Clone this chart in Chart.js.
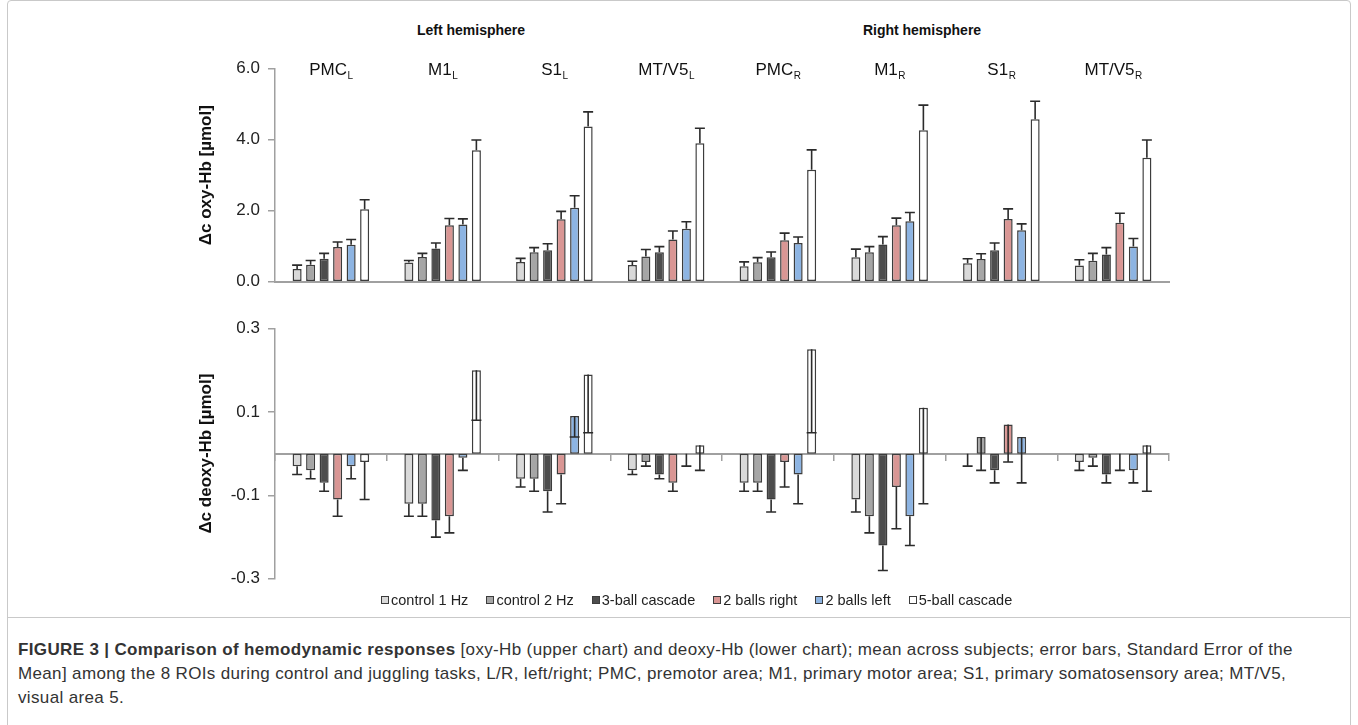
<!DOCTYPE html>
<html>
<head>
<meta charset="utf-8">
<script src="https://cdn.jsdelivr.net/npm/chart.js@4.4.1/dist/chart.umd.min.js"></script>
<style>
  body { margin: 0; background: #fff; width: 1358px; height: 725px; overflow: hidden; position: relative;
         font-family: "Liberation Sans", Arial, Helvetica, sans-serif; }
  canvas { position: absolute; left: 0; }
  #oxyChart { top: 0; }
  #deoxyChart { top: 300px; }
  .frame { position: absolute; left: 7px; top: 0; width: 1342px; height: 760px; border: 1px solid #c9c9c9; border-radius: 4px; }
  .divider { position: absolute; left: 7px; top: 617px; width: 1344px; height: 1px; background: #c9c9c9; }
  .hemi { position: absolute; top: 22px; font-weight: bold; font-size: 14px; color: #111; transform: translateX(-50%); white-space: nowrap; }
  #legend { position: absolute; left: 381px; top: 592px; display: flex; gap: 18px; font-size: 14.5px; color: #222; white-space: nowrap; }
  #legend span.item { display: flex; align-items: center; }
  #legend span.box { width: 6px; height: 6px; border: 1px solid #3c3c3c; margin-right: 2px; }
  .caption { position: absolute; left: 18px; top: 638px; font-size: 17px; letter-spacing: 0.35px; line-height: 24px; color: #333; white-space: nowrap; }
</style>
</head>
<body>
<div class="frame"></div>
<div class="divider"></div>
<div class="hemi" style="left:471px">Left hemisphere</div>
<div class="hemi" style="left:922px">Right hemisphere</div>
<canvas id="oxyChart" width="1358" height="300"></canvas>
<canvas id="deoxyChart" width="1358" height="297"></canvas>
<div id="legend"></div>
<div class="caption"><b>FIGURE 3 | Comparison of hemodynamic responses</b> [oxy-Hb (upper chart) and deoxy-Hb (lower chart); mean across subjects; error bars, Standard Error of the<br>Mean] among the 8 ROIs during control and juggling tasks, L/R, left/right; PMC, premotor area; M1, primary motor area; S1, primary somatosensory area; MT/V5,<br>visual area 5.</div>

<script>
// regions of interest (name + hemisphere subscript)
const roiNames = ['PMC', 'M1', 'S1', 'MT/V5', 'PMC', 'M1', 'S1', 'MT/V5'];
const roiSides = ['L', 'L', 'L', 'L', 'R', 'R', 'R', 'R'];
const conditions = ['control 1 Hz', 'control 2 Hz', '3-ball cascade', '2 balls right', '2 balls left', '5-ball cascade'];

// oxy-Hb means and SEM
const oxyControl1 = [0.36, 0.54, 0.56, 0.47, 0.44, 0.69, 0.52, 0.46];
const oxyControl1Err = [0.11, 0.06, 0.10, 0.11, 0.12, 0.23, 0.13, 0.16];
const oxyControl2 = [0.48, 0.70, 0.83, 0.71, 0.55, 0.83, 0.64, 0.59];
const oxyControl2Err = [0.12, 0.10, 0.13, 0.20, 0.13, 0.16, 0.15, 0.21];
const oxyCascade3 = [0.65, 0.94, 0.89, 0.83, 0.69, 1.05, 0.89, 0.77];
const oxyCascade3Err = [0.15, 0.15, 0.18, 0.16, 0.15, 0.22, 0.20, 0.19];
const oxyRight2 = [0.98, 1.59, 1.76, 1.19, 1.17, 1.59, 1.77, 1.66];
const oxyRight2Err = [0.14, 0.19, 0.22, 0.24, 0.20, 0.20, 0.28, 0.27];
const oxyLeft2 = [1.04, 1.61, 2.08, 1.49, 1.09, 1.70, 1.45, 0.99];
const oxyLeft2Err = [0.15, 0.16, 0.34, 0.20, 0.17, 0.25, 0.18, 0.23];
const oxyCascade5 = [2.04, 3.70, 4.37, 3.90, 3.15, 4.26, 4.57, 3.49];
const oxyCascade5Err = [0.27, 0.29, 0.41, 0.42, 0.56, 0.71, 0.51, 0.50];

// deoxy-Hb means and SEM
const deoxyControl1 = [-0.03, -0.12, -0.06, -0.04, -0.07, -0.11, 0, -0.02];
const deoxyControl1Err = [0.02, 0.03, 0.02, 0.01, 0.02, 0.03, 0.03, 0.02];
const deoxyControl2 = [-0.04, -0.12, -0.06, -0.02, -0.07, -0.15, 0.04, -0.01];
const deoxyControl2Err = [0.02, 0.03, 0.03, 0.01, 0.02, 0.04, 0.08, 0.02];
const deoxyCascade3 = [-0.07, -0.16, -0.09, -0.05, -0.11, -0.22, -0.04, -0.05];
const deoxyCascade3Err = [0.02, 0.04, 0.05, 0.01, 0.03, 0.06, 0.03, 0.02];
const deoxyRight2 = [-0.11, -0.15, -0.05, -0.07, -0.02, -0.08, 0.07, 0];
const deoxyRight2Err = [0.04, 0.04, 0.07, 0.02, 0.06, 0.10, 0.09, 0.04];
const deoxyLeft2 = [-0.03, -0.01, 0.09, 0, -0.05, -0.15, 0.04, -0.04];
const deoxyLeft2Err = [0.03, 0.03, 0.05, 0.03, 0.07, 0.07, 0.11, 0.03];
const deoxyCascade5 = [-0.02, 0.20, 0.19, 0.02, 0.25, 0.11, 0, 0.02];
const deoxyCascade5Err = [0.09, 0.12, 0.14, 0.06, 0.20, 0.23, 0, 0.11];

const oxyTicks = [0, 6, 2];      // min, max, step
const deoxyTicks = [-0.3, 0.3, 0.2];

const fills = ['#d9d9d9', '#a6a6a6', '#4d4d4d', '#d99694', '#8db4e2', '#ffffff'];
const edge = '#3c3c3c';
const axisGray = '#a0a0a0';
const FONT = '"Liberation Sans", Arial, Helvetica, sans-serif';
Chart.defaults.font.family = FONT;
Chart.defaults.color = '#222';

const labels = roiNames.map((n, i) => n + '_' + roiSides[i]);

function makeDatasets(values, errors) {
  return values.map((v, i) => ({
    label: conditions[i],
    data: v,
    errors: errors[i],
    backgroundColor: fills[i],
    borderColor: edge,
    borderWidth: 1.5,
    borderSkipped: false,
    categoryPercentage: 0.725,
    barPercentage: 0.67,
  }));
}

// whiskers: +1 = up from bar end, -1 = down from bar end
const errorBars = {
  id: 'errorBars',
  afterDatasetsDraw(chart, args, opts) {
    const ctx = chart.ctx;
    const y = chart.scales.y;
    ctx.save();
    ctx.strokeStyle = '#2b2b2b';
    ctx.lineWidth = 1.6;
    chart.data.datasets.forEach((ds, i) => {
      chart.getDatasetMeta(i).data.forEach((bar, j) => {
        const e = ds.errors[j];
        if (!e) return;
        const v = ds.data[j];
        const y0 = y.getPixelForValue(v);
        const y1 = y.getPixelForValue(v + opts.direction * e);
        ctx.beginPath();
        ctx.moveTo(bar.x, y0);
        ctx.lineTo(bar.x, y1);
        ctx.moveTo(bar.x - 5, y1);
        ctx.lineTo(bar.x + 5, y1);
        ctx.stroke();
      });
    });
    ctx.restore();
  }
};

// ROI labels with subscript above the upper chart
const roiLabels = {
  id: 'roiLabels',
  afterDraw(chart) {
    const ctx = chart.ctx;
    const x = chart.scales.x;
    ctx.save();
    ctx.fillStyle = '#111';
    ctx.textBaseline = 'alphabetic';
    ctx.textAlign = 'left';
    roiNames.forEach((name, i) => {
      ctx.font = '17px ' + FONT;
      const w1 = ctx.measureText(name).width;
      ctx.font = '10px ' + FONT;
      const w2 = ctx.measureText(roiSides[i]).width;
      const start = x.getPixelForValue(i) - (w1 + w2) / 2;
      ctx.font = '17px ' + FONT;
      ctx.fillText(name, start, 75);
      ctx.font = '10px ' + FONT;
      ctx.fillText(roiSides[i], start + w1 + 0.5, 79);
    });
    ctx.restore();
  }
};

function yAxis(ticks, title) {
  return {
    min: ticks[0], max: ticks[1],
    afterFit: s => { s.width = 85; },
    ticks: { stepSize: ticks[2], padding: 8, color: '#222', font: { size: 17 },
             callback: v => Number(v).toFixed(1) },
    grid: { drawOnChartArea: false, tickLength: 7, color: axisGray, lineWidth: 1.5 },
    border: { color: axisGray, width: 1.5 },
    title: { display: true, text: title, color: '#111', font: { size: 17, weight: 'bold' }, padding: { top: 6, bottom: 0 } },
  };
}

new Chart(document.getElementById('oxyChart'), {
  type: 'bar',
  data: {
    labels,
    datasets: makeDatasets(
      [oxyControl1, oxyControl2, oxyCascade3, oxyRight2, oxyLeft2, oxyCascade5],
      [oxyControl1Err, oxyControl2Err, oxyCascade3Err, oxyRight2Err, oxyLeft2Err, oxyCascade5Err]),
  },
  options: {
    responsive: false,
    maintainAspectRatio: false,
    animation: false,
    layout: { padding: { left: 190, right: 189, top: 68.5, bottom: 8 } },
    scales: {
      x: {
        afterFit: s => { s.height = 0; },
        ticks: { display: false },
        grid: { drawOnChartArea: false, drawTicks: false, tickLength: 0 },
        border: { color: axisGray, width: 2 },
      },
      y: yAxis(oxyTicks, 'Δc oxy-Hb [µmol]'),
    },
    plugins: {
      legend: { display: false },
      tooltip: { enabled: false },
      errorBars: { direction: 1 },
    },
  },
  plugins: [errorBars, roiLabels],
});

new Chart(document.getElementById('deoxyChart'), {
  type: 'bar',
  data: {
    labels,
    datasets: makeDatasets(
      [deoxyControl1, deoxyControl2, deoxyCascade3, deoxyRight2, deoxyLeft2, deoxyCascade5],
      [deoxyControl1Err, deoxyControl2Err, deoxyCascade3Err, deoxyRight2Err, deoxyLeft2Err, deoxyCascade5Err]),
  },
  options: {
    responsive: false,
    maintainAspectRatio: false,
    animation: false,
    layout: { padding: { left: 190, right: 189, top: 28.5, bottom: 12 } },
    scales: {
      x: {
        position: { y: 0 },
        afterFit: s => { s.height = 0; },
        ticks: { display: false },
        grid: { drawOnChartArea: false, tickLength: 6, color: axisGray, lineWidth: 1.5 },
        border: { color: axisGray, width: 2 },
      },
      y: yAxis(deoxyTicks, 'Δc deoxy-Hb [µmol]'),
    },
    plugins: {
      legend: { display: false },
      tooltip: { enabled: false },
      errorBars: { direction: -1 },
    },
  },
  plugins: [errorBars],
});

// legend row under the lower chart
const legendEl = document.getElementById('legend');
conditions.forEach((name, i) => {
  const item = document.createElement('span');
  item.className = 'item';
  const box = document.createElement('span');
  box.className = 'box';
  box.style.background = fills[i];
  item.appendChild(box);
  item.appendChild(document.createTextNode(name));
  legendEl.appendChild(item);
});
</script>
</body>
</html>
